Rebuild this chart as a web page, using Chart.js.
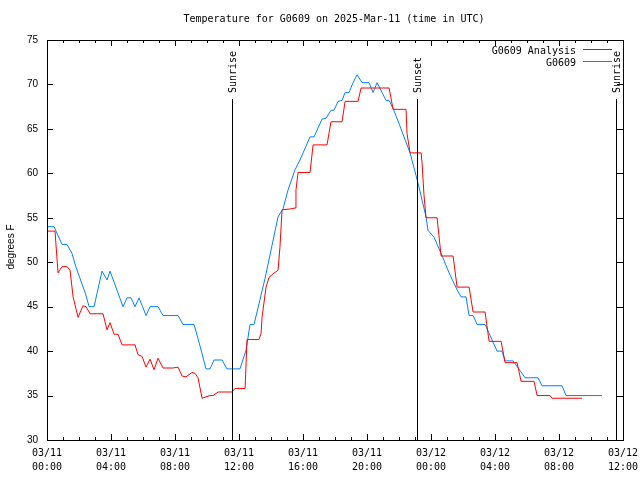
<!DOCTYPE html>
<html>
<head>
<meta charset="utf-8">
<script src="https://cdn.jsdelivr.net/npm/chart.js"></script>
<style>
  body { margin: 0; background: #fff; }
  canvas { display: block; }
</style>
</head>
<body>
<canvas id="chart" width="640" height="480"></canvas>
<script>
// hours since 03/11 00:00 UTC
const obsHours = [0, 0.44, 0.94, 1.25, 1.56, 1.8, 2.1, 2.4, 2.63, 2.94, 3.44, 3.75, 3.94, 4.75, 5.0, 5.25, 5.5, 5.75,
  6.19, 6.44, 6.94, 7.25, 8.19, 8.5, 9.19, 9.5, 9.94, 10.19, 10.44, 10.94, 11.25, 12.06, 12.44, 12.69, 12.94,
  13.63, 14.44, 14.75, 15.06, 15.5, 15.81, 16.44, 16.69, 17.19, 17.44, 17.75, 17.94, 18.19, 18.44, 18.63, 18.88,
  19.13, 19.38, 19.69, 20.13, 20.38, 20.63, 20.94, 21.19, 21.38, 21.63, 22.0, 22.69, 23.19, 23.69, 23.81, 24.19,
  24.63, 25.13, 25.63, 25.88, 26.19, 26.38, 26.63, 26.88, 27.38, 28.13, 28.44, 28.63, 29.13, 29.88, 30.69, 30.94,
  32.19, 32.44, 34.69];
const obsTemps = [54, 54, 52, 52, 51, 49.5, 48, 46.5, 45, 45, 49, 48, 49, 45, 46, 46, 45, 46,
  44, 45, 45, 44, 44, 43, 43, 41, 38, 38, 39, 39, 38, 38, 40.1, 43, 43,
  48.2, 55.1, 56, 58.1, 60.4, 61.5, 64.1, 64.1, 66.1, 66.2, 67.1, 67.1, 68.1, 68.2, 69.1, 69.1,
  70.2, 71.1, 70.2, 70.2, 69.1, 70.2, 69.1, 68.2, 68.2, 67.3, 65.6, 62.3, 58.9, 55.1, 53.6, 52.8,
  51, 48.8, 46.9, 46.1, 46.1, 44, 44, 43, 43, 40, 40, 38.9, 38.9, 37, 37, 36.1,
  36.1, 35, 35];

const anaHours = [0, 0.5, 0.69, 0.94, 1.25, 1.44, 1.63, 1.94, 2.25, 2.44, 2.69, 3.5, 3.75, 3.94, 4.19, 4.44, 4.69,
  5.5, 5.69, 5.94, 6.19, 6.44, 6.69, 6.94, 7.25, 7.88, 8.19, 8.44, 8.69, 9.06, 9.25, 9.44, 9.69, 10.19, 10.38,
  10.69, 11.56, 11.75, 12.38, 12.5, 13.25, 13.38, 13.44, 13.69, 13.88, 14.13, 14.44, 14.56, 14.69, 15.25, 15.5,
  15.56, 15.69, 16.44, 16.63, 17.5, 17.75, 18.44, 18.63, 19.44, 19.63, 21.38, 21.63, 22.44, 22.5, 22.69, 23.38,
  23.44, 23.56, 23.69, 24.38, 24.63, 25.38, 25.63, 26.38, 26.63, 27.38, 27.63, 28.38, 28.63, 29.38, 29.63,
  30.44, 30.63, 31.44, 31.56, 33.44];
const anaTemps = [53.5, 53.5, 48.8, 49.5, 49.5, 49.1, 46.1, 43.8, 45.1, 45, 44.2, 44.2, 42.4, 43.2, 41.9, 41.9, 40.7,
  40.7, 39.6, 39.4, 38.2, 39.1, 37.9, 39.2, 38.1, 38.1, 38.2, 37.2, 37.1, 37.6, 37.5, 37, 34.7, 35, 35,
  35.4, 35.4, 35.8, 35.8, 41.3, 41.3, 42, 43.8, 47.2, 48.3, 48.7, 49.1, 51.7, 55.9, 56, 56.1,
  58.1, 60.1, 60.1, 63.2, 63.2, 65.8, 65.8, 68.1, 68.1, 69.6, 69.6, 67.2, 67.2, 64.5, 62.3, 62.3,
  61.2, 57.6, 55, 55, 50.7, 50.7, 47.2, 47.2, 44.4, 44.4, 41.1, 41.1, 38.7, 38.7, 36.6,
  36.6, 35, 35, 34.7, 34.7];

const tickDates = ['03/11', '03/11', '03/11', '03/11', '03/11', '03/11', '03/12', '03/12', '03/12', '03/12'];
const tickTimes = ['00:00', '04:00', '08:00', '12:00', '16:00', '20:00', '00:00', '04:00', '08:00', '12:00'];

const eventHours = [11.56, 23.13, 35.56];
const eventNames = ['Sunrise', 'Sunset', 'Sunrise'];

const seriesNames = ['G0609 Analysis', 'G0609'];
const seriesColors = ['#ff0000', '#0080ff'];

const mono = '10px "DejaVu Sans Mono", monospace';

const overlay = {
  id: 'overlay',
  afterDraw(chart) {
    const ctx = chart.ctx;
    const a = chart.chartArea;
    const xs = chart.scales.x, ys = chart.scales.y;
    ctx.save();
    ctx.strokeStyle = '#000';
    ctx.lineWidth = 1;
    ctx.strokeRect(Math.round(a.left) + 0.5, Math.round(a.top) + 0.5,
      Math.round(a.right - a.left), Math.round(a.bottom - a.top));

    // inward ticks
    ctx.beginPath();
    for (let h = 0; h <= 36; h++) {
      const x = Math.round(xs.getPixelForValue(h)) + 0.5;
      const len = h % 4 === 0 ? 6 : 3;
      ctx.moveTo(x, a.bottom); ctx.lineTo(x, a.bottom - len);
      ctx.moveTo(x, a.top); ctx.lineTo(x, a.top + len);
    }
    for (let v = 30; v <= 75; v += 5) {
      const y = Math.round(ys.getPixelForValue(v)) + 0.5;
      ctx.moveTo(a.left, y); ctx.lineTo(a.left + 6, y);
      ctx.moveTo(a.right, y); ctx.lineTo(a.right - 6, y);
    }
    ctx.stroke();

    // sunrise / sunset markers
    ctx.font = mono;
    ctx.fillStyle = '#000';
    eventHours.forEach((h, i) => {
      const x = Math.round(xs.getPixelForValue(h)) + 0.5;
      ctx.strokeStyle = '#000';
      ctx.beginPath();
      ctx.moveTo(x, 99); ctx.lineTo(x, a.bottom);
      ctx.stroke();
      ctx.save();
      ctx.translate(x + 1, 93);
      ctx.rotate(-Math.PI / 2);
      ctx.textAlign = 'left';
      ctx.textBaseline = 'middle';
      ctx.fillText(eventNames[i], 0, 0);
      ctx.restore();
    });

    // legend
    ctx.textAlign = 'right';
    ctx.textBaseline = 'middle';
    seriesNames.forEach((name, i) => {
      const y = 51 + i * 12;
      ctx.fillStyle = '#000';
      ctx.fillText(name, 576, y);
      ctx.fillStyle = seriesColors[i];
      ctx.fillRect(583, y - 2, 29, 1);
    });

    // title
    ctx.fillStyle = '#000';
    ctx.textAlign = 'center';
    ctx.fillText('Temperature for G0609 on 2025-Mar-11 (time in UTC)', 334, 19);

    // y axis title
    ctx.save();
    ctx.translate(11, 247);
    ctx.rotate(-Math.PI / 2);
    ctx.font = '10px "Liberation Sans", Arial, sans-serif';
    ctx.textAlign = 'center';
    ctx.textBaseline = 'middle';
    ctx.fillText('degrees F', 0, 0);
    ctx.restore();
    ctx.restore();
  }
};

new Chart('chart', {
  type: 'scatter',
  data: {
    datasets: [
      {
        label: seriesNames[0],
        data: anaHours.map((h, i) => ({ x: h, y: anaTemps[i] })),
        borderColor: seriesColors[0],
        backgroundColor: seriesColors[0],
        borderWidth: 1,
        showLine: true,
        pointRadius: 0,
        tension: 0
      },
      {
        label: seriesNames[1],
        data: obsHours.map((h, i) => ({ x: h, y: obsTemps[i] })),
        borderColor: seriesColors[1],
        backgroundColor: seriesColors[1],
        borderWidth: 1,
        showLine: true,
        pointRadius: 0,
        tension: 0
      }
    ]
  },
  options: {
    responsive: false,
    animation: false,
    devicePixelRatio: 1,
    layout: { padding: { top: 40, right: 17, left: 0, bottom: 0 } },
    plugins: { legend: { display: false }, title: { display: false }, tooltip: { enabled: false } },
    scales: {
      x: {
        type: 'linear',
        min: 0,
        max: 36,
        afterFit: s => { s.height = 40; s.paddingLeft = 0; s.paddingRight = 0; },
        grid: { display: false, drawTicks: false },
        border: { display: false },
        ticks: {
          stepSize: 1,
          autoSkip: false,
          maxRotation: 0,
          padding: 6,
          color: '#000',
          font: { family: '"DejaVu Sans Mono", monospace', size: 10, lineHeight: 1.4 },
          callback: v => (v % 4 === 0 ? [tickDates[v / 4], tickTimes[v / 4]] : '')
        }
      },
      y: {
        min: 30,
        max: 75,
        afterFit: s => { s.width = 47; s.paddingTop = 0; s.paddingBottom = 0; },
        grid: { display: false, drawTicks: false },
        border: { display: false },
        ticks: {
          stepSize: 5,
          padding: 9,
          color: '#000',
          font: { family: '"Liberation Sans", Arial, sans-serif', size: 10 }
        }
      }
    }
  },
  plugins: [overlay]
});
</script>
</body>
</html>
